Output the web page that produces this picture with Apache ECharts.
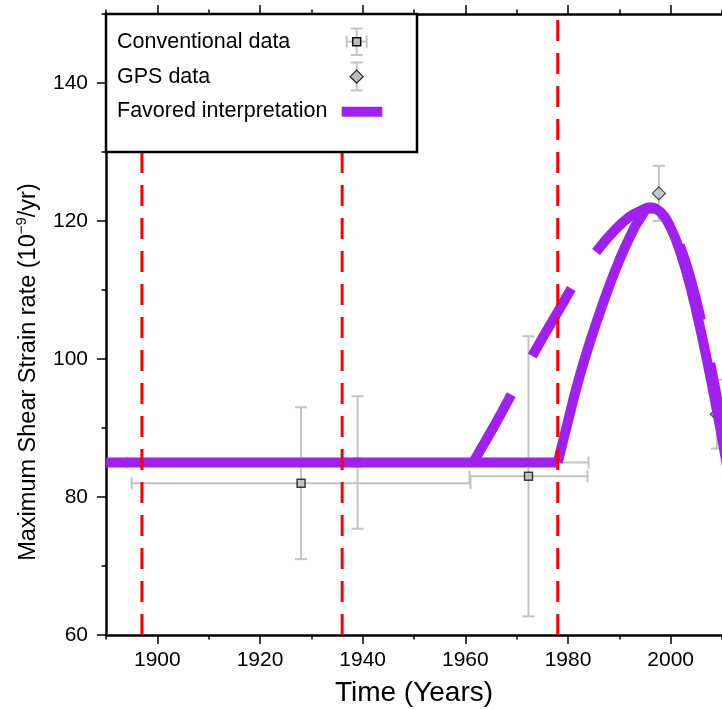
<!DOCTYPE html>
<html>
<head>
<meta charset="utf-8">
<script src="https://cdn.jsdelivr.net/npm/echarts@6/dist/echarts.min.js"></script>
<style>
html,body{margin:0;padding:0;background:#fff;}
#chart{width:722px;height:709px;}
</style>
</head>
<body>
<div id="chart"></div>
<script>
// ---------------- data ----------------
const xMajorTicks = [1900, 1920, 1940, 1960, 1980, 2000];
const xMinorTicks = [1890, 1910, 1930, 1950, 1970, 1990, 2010];
const yMajorTicks = [60, 80, 100, 120, 140];
const yMinorTicks = [70, 90, 110, 130, 150];

const eventYears = [1897, 1936, 1978];

const convYears = [1928, 1939, 1972.3];
const convValues = [82, 85, 83];
const convYearErr = [33, 45, 11.5];
const convValueErr = [11, 9.6, 20.3];

const gpsYears = [1997.7, 2009];
const gpsValues = [124, 92];
const gpsValueErr = [4, 5];

const baseYears = [1890, 1978];
const baseValues = [85, 85];

const bYears  = [1978, 1980, 1982, 1984, 1986, 1988, 1990, 1992, 1994, 1996, 1998, 2000, 2002, 2004, 2006, 2008, 2010, 2012];
const bValues = [85, 91, 96.8, 101.8, 106.3, 110.5, 114.3, 117.6, 120.3, 121.8, 121.3, 119, 115.2, 110, 103.6, 96.4, 88.6, 80];

const aYears  = [1961.5, 1966, 1970, 1974, 1978, 1982, 1986, 1989, 1992, 1994, 1996, 1998, 2000, 2002, 2004, 2006, 2008, 2010, 2012];
const aValues = [85, 90.8, 96.3, 101.7, 106.8, 111.8, 116, 118.6, 120.6, 121.4, 122, 121.2, 119.3, 116, 111.3, 105.3, 98.3, 90.3, 82];

const labelTexts = ['a', 'b'];
const labelYears = [1966, 1981.2];
const labelValues = [98.8, 103.2];

// ---------------- styles ----------------
const FONT = '"Liberation Sans", Arial, Helvetica, sans-serif';
const PURPLE = '#a020f0';
const ERR = '#c4c4c4';
const MARK_FILL = '#bdbdbd';
const labelPadding = [[-1, 3], [2, 3]];

function zip(xs, ys) { return xs.map((x, i) => [x, ys[i]]); }

function errRender(params, api) {
  const x = api.value(0), y = api.value(1), ex = api.value(2), ey = api.value(3);
  const cap = 6;
  const st = { stroke: ERR, lineWidth: 2 };
  const ch = [];
  if (ex > 0) {
    const l = api.coord([x - ex, y]), r = api.coord([x + ex, y]);
    ch.push({ type: 'line', shape: { x1: l[0], y1: l[1], x2: r[0], y2: r[1] }, style: st });
    ch.push({ type: 'line', shape: { x1: l[0], y1: l[1] - cap, x2: l[0], y2: l[1] + cap }, style: st });
    ch.push({ type: 'line', shape: { x1: r[0], y1: r[1] - cap, x2: r[0], y2: r[1] + cap }, style: st });
  }
  if (ey > 0) {
    const t = api.coord([x, y + ey]), b = api.coord([x, y - ey]);
    ch.push({ type: 'line', shape: { x1: t[0], y1: t[1], x2: b[0], y2: b[1] }, style: st });
    ch.push({ type: 'line', shape: { x1: t[0] - cap, y1: t[1], x2: t[0] + cap, y2: t[1] }, style: st });
    ch.push({ type: 'line', shape: { x1: b[0] - cap, y1: b[1], x2: b[0] + cap, y2: b[1] }, style: st });
  }
  return { type: 'group', children: ch };
}

const errData = convYears.map((x, i) => [x, convValues[i], convYearErr[i], convValueErr[i]])
  .concat(gpsYears.map((x, i) => [x, gpsValues[i], 0, gpsValueErr[i]]));

const tickStyle = { color: '#000', width: 1.5 };
function xAxisDef(pos, ticks, len, showLine, showLabel) {
  return {
    type: 'value', position: pos, min: 1890, max: 2010,
    axisLine: { show: showLine, onZero: false, lineStyle: { color: '#000', width: 2.5 } },
    axisTick: { show: true, customValues: ticks, length: len, lineStyle: tickStyle },
    axisLabel: showLabel ? { show: true, customValues: ticks, formatter: (v) => String(v), fontSize: 21, color: '#000', fontFamily: FONT, margin: 15 } : { show: false },
    splitLine: { show: false }
  };
}
function yAxisDef(ticks, len, showLine, showLabel) {
  return {
    type: 'value', position: 'left', min: 60, max: 150,
    axisLine: { show: showLine, onZero: false, lineStyle: { color: '#000', width: 2.5 } },
    axisTick: { show: true, customValues: ticks, length: len, lineStyle: tickStyle },
    axisLabel: showLabel ? { show: true, customValues: ticks, formatter: (v) => String(v), fontSize: 21, color: '#000', fontFamily: FONT, margin: 18 } : { show: false },
    splitLine: { show: false }
  };
}

const xMain = xAxisDef('bottom', xMajorTicks, 9, true, true);
xMain.name = 'Time (Years)';
xMain.nameLocation = 'middle';
xMain.nameGap = 44;
xMain.nameTextStyle = { fontSize: 28, color: '#000', fontFamily: FONT };

const yMain = yAxisDef(yMajorTicks, 9, true, true);
yMain.name = 'Maximum Shear Strain rate (10{sup|\u22129}/yr)';
yMain.nameLocation = 'middle';
yMain.nameGap = 42;
yMain.nameTextStyle = {
  fontSize: 23.5, color: '#000', fontFamily: FONT, lineHeight: 28,
  padding: [0, 95, 0, 0],
  rich: { sup: { fontSize: 15, fontFamily: FONT, color: '#000', verticalAlign: 'top', lineHeight: 15 } }
};

const series = [];
series.push({
  type: 'custom', name: 'errbars', renderItem: errRender, data: errData, z: 2,
  encode: { x: 0, y: 1 }, silent: true
});
series.push({
  type: 'scatter', name: 'Conventional data', data: zip(convYears, convValues), symbol: 'rect', symbolSize: 8,
  itemStyle: { color: MARK_FILL, borderColor: '#111', borderWidth: 1.5 }, z: 3
});
series.push({
  type: 'scatter', name: 'GPS data', data: zip(gpsYears, gpsValues), symbol: 'diamond', symbolSize: 13,
  itemStyle: { color: MARK_FILL, borderColor: '#222', borderWidth: 1.2 }, z: 3
});
series.push({
  type: 'line', name: 'base', data: zip(baseYears, baseValues), symbol: 'none',
  lineStyle: { color: PURPLE, width: 10, cap: 'butt' }, z: 4
});
series.push({
  type: 'line', name: 'b', data: zip(bYears, bValues), symbol: 'none', smooth: true,
  lineStyle: { color: PURPLE, width: 10, cap: 'butt' }, z: 4
});
series.push({
  type: 'line', name: 'a', data: zip(aYears, aValues), symbol: 'none', smooth: true,
  lineStyle: { color: PURPLE, width: 10, cap: 'butt', type: [78, 44] }, z: 4
});
eventYears.forEach((yr) => {
  series.push({
    type: 'line', data: [[yr, 60], [yr, 150]], symbol: 'none',
    lineStyle: { color: '#ff0000', width: 3, type: [21, 12], cap: 'butt' }, z: 5
  });
});
series.push({
  type: 'scatter', name: 'labels', symbolSize: 1, itemStyle: { opacity: 0 }, z: 6,
  data: labelTexts.map((t, i) => ({
    name: t, value: [labelYears[i], labelValues[i]],
    label: { padding: labelPadding[i] }
  })),
  label: {
    show: true, position: 'inside', formatter: (p) => p.name, fontSize: 21, lineHeight: 20,
    color: '#000', fontFamily: FONT, backgroundColor: '#fff', borderColor: PURPLE, borderWidth: 1
  }
});

// legend (drawn as graphics)
const gl = { stroke: ERR, lineWidth: 2 };
const legendFont = '21.5px ' + FONT;
const graphic = [
  { type: 'rect', shape: { x: 106, y: 14, width: 311, height: 138 }, style: { fill: '#fff', stroke: '#000', lineWidth: 2.5 }, z: 100 },
  { type: 'text', x: 117, y: 42, style: { text: 'Conventional data', font: legendFont, fill: '#000', verticalAlign: 'middle' }, z: 101 },
  { type: 'text', x: 117, y: 77, style: { text: 'GPS data', font: legendFont, fill: '#000', verticalAlign: 'middle' }, z: 101 },
  { type: 'text', x: 117, y: 111, style: { text: 'Favored interpretation', font: legendFont, fill: '#000', verticalAlign: 'middle' }, z: 101 },
  { type: 'line', shape: { x1: 346.7, y1: 41.7, x2: 366.7, y2: 41.7 }, style: gl, z: 101 },
  { type: 'line', shape: { x1: 346.7, y1: 35.7, x2: 346.7, y2: 47.7 }, style: gl, z: 101 },
  { type: 'line', shape: { x1: 366.7, y1: 35.7, x2: 366.7, y2: 47.7 }, style: gl, z: 101 },
  { type: 'line', shape: { x1: 356.7, y1: 28.5, x2: 356.7, y2: 55 }, style: gl, z: 101 },
  { type: 'line', shape: { x1: 350.7, y1: 28.5, x2: 362.7, y2: 28.5 }, style: gl, z: 101 },
  { type: 'line', shape: { x1: 350.7, y1: 55, x2: 362.7, y2: 55 }, style: gl, z: 101 },
  { type: 'rect', shape: { x: 352.7, y: 37.7, width: 8, height: 8 }, style: { fill: MARK_FILL, stroke: '#111', lineWidth: 1.5 }, z: 102 },
  { type: 'line', shape: { x1: 356.7, y1: 62.5, x2: 356.7, y2: 90.5 }, style: gl, z: 101 },
  { type: 'line', shape: { x1: 350.7, y1: 62.5, x2: 362.7, y2: 62.5 }, style: gl, z: 101 },
  { type: 'line', shape: { x1: 350.7, y1: 90.5, x2: 362.7, y2: 90.5 }, style: gl, z: 101 },
  { type: 'polygon', shape: { points: [[356.7, 70.2], [363.2, 76.7], [356.7, 83.2], [350.2, 76.7]] }, style: { fill: MARK_FILL, stroke: '#222', lineWidth: 1.2 }, z: 102 },
  { type: 'rect', shape: { x: 341.7, y: 106.7, width: 40.6, height: 10 }, style: { fill: PURPLE }, z: 101 }
];

const chart = echarts.init(document.getElementById('chart'), null, { renderer: 'canvas' });
chart.setOption({
  animation: false,
  backgroundColor: '#fff',
  grid: { left: 106, right: 0, top: 14, bottom: 74, containLabel: false, outerBoundsMode: 'none' },
  xAxis: [
    xMain,
    xAxisDef('bottom', xMinorTicks, 4.5, false, false),
    xAxisDef('top', xMajorTicks, 9, true, false),
    xAxisDef('top', xMinorTicks, 4.5, false, false)
  ],
  yAxis: [
    yMain,
    yAxisDef(yMinorTicks, 4.5, false, false)
  ],
  series: series,
  graphic: graphic
});
</script>
</body>
</html>
